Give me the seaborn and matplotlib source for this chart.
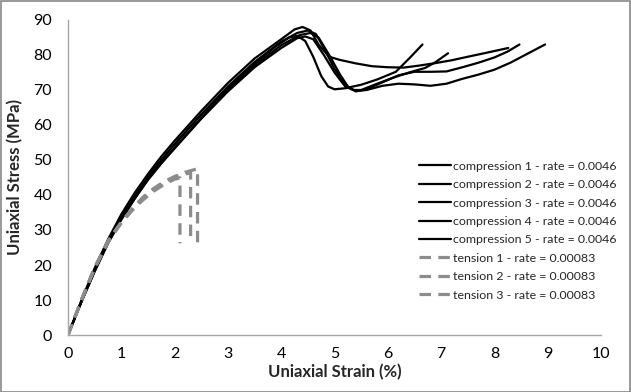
import pandas as pd
import seaborn as sns
import matplotlib.pyplot as plt
from matplotlib.patches import Rectangle
from matplotlib.ticker import MultipleLocator

# compression tests (strain %, stress MPa), rate = 0.0046
comp1_strain = [0, 0.25, 0.5, 0.75, 1.0, 1.25, 1.5, 1.75, 2.0, 2.5, 3.0, 3.5, 3.9, 4.15, 4.3, 4.45, 4.6, 4.75, 4.88, 5.0, 5.2, 5.5, 5.8, 6.15, 6.4, 6.65]
comp1_stress = [0, 9.6, 18.7, 26.8, 33.6, 39.6, 45, 50, 54.5, 63, 70.5, 77.5, 82.5, 85, 85.5, 84, 79.5, 74, 71, 70.2, 70.5, 71.5, 73, 75.2, 79, 83]

comp2_strain = [0, 0.25, 0.5, 0.75, 1.0, 1.25, 1.5, 1.75, 2.0, 2.5, 3.0, 3.5, 4.0, 4.25, 4.4, 4.55, 4.7, 4.9, 5.1, 5.4, 5.7, 6.0, 6.3, 6.6, 6.9, 7.2, 7.5, 7.9, 8.26]
comp2_stress = [0, 9.8, 19.1, 27.3, 34.5, 40.6, 46, 51, 55.5, 64, 72, 79, 84.5, 87.3, 88, 87, 83, 79.5, 78.6, 77.6, 76.8, 76.5, 76.4, 77, 77.7, 78.5, 79.5, 80.8, 82]

comp3_strain = [0, 0.25, 0.5, 0.75, 1.0, 1.25, 1.5, 1.75, 2.0, 2.5, 3.0, 3.5, 4.0, 4.3, 4.5, 4.65, 4.8, 5.0, 5.2, 5.35, 5.5, 5.8, 6.1, 6.4, 6.7, 6.9, 7.13]
comp3_stress = [0, 9.6, 18.6, 26.7, 33.5, 39.5, 45, 50, 54.5, 63, 71, 78, 83.8, 86.3, 87, 86, 82, 76, 71.5, 70, 70, 71.8, 73.5, 75, 76.3, 78, 80.5]

comp4_strain = [0, 0.25, 0.5, 0.75, 1.0, 1.25, 1.5, 1.75, 2.0, 2.5, 3.0, 3.5, 4.0, 4.35, 4.55, 4.7, 4.9, 5.1, 5.25, 5.4, 5.6, 5.9, 6.2, 6.5, 6.8, 7.1, 7.4, 7.7, 8.0, 8.25, 8.47]
comp4_stress = [0, 9.4, 18.2, 26.2, 33, 39, 44.5, 49.2, 53.5, 62, 70, 77, 82.8, 85.7, 86.3, 85, 80, 74.5, 71, 69.6, 70.2, 72.2, 74.2, 75.2, 75.2, 75.3, 76.5, 77.8, 79.3, 81, 83]

comp5_strain = [0, 0.25, 0.5, 0.75, 1.0, 1.25, 1.5, 1.75, 2.0, 2.5, 3.0, 3.5, 4.0, 4.3, 4.45, 4.6, 4.8, 5.0, 5.2, 5.4, 5.6, 5.9, 6.2, 6.5, 6.8, 7.1, 7.4, 7.7, 8.0, 8.3, 8.6, 8.95]
comp5_stress = [0, 9.4, 18.2, 26.2, 33, 38.9, 44.3, 49, 53.3, 61.8, 69.6, 76.5, 82, 84.8, 85.3, 84.5, 80, 75, 71, 69.7, 70, 71.2, 71.8, 71.6, 71.2, 71.8, 73.2, 74.4, 75.8, 77.8, 80.2, 83]

# tension tests, rate = 0.00083
ten1_strain = [0, 0.25, 0.5, 0.75, 1.0, 1.2, 1.4, 1.6, 1.8, 2.0, 2.1, 2.1]
ten1_stress = [0, 9.8, 19, 26.5, 32, 35.5, 38.5, 41, 43, 44.5, 44.9, 26.2]

ten2_strain = [0, 0.25, 0.5, 0.75, 1.0, 1.2, 1.4, 1.6, 1.8, 2.0, 2.2, 2.3, 2.3]
ten2_stress = [0, 10, 19.3, 26.8, 32.2, 35.8, 39, 41.5, 43.5, 45, 46, 46.3, 27.3]

ten3_strain = [0, 0.25, 0.5, 0.75, 1.0, 1.2, 1.4, 1.6, 1.8, 2.0, 2.2, 2.43, 2.43]
ten3_stress = [0, 10, 19.3, 26.8, 32.3, 36, 39.3, 41.8, 43.8, 45.3, 46.5, 47.5, 26]

comp_labels = ["compression %d - rate = 0.0046" % i for i in range(1, 6)]
ten_labels = ["tension %d - rate = 0.00083" % i for i in range(1, 4)]

curves = [
    (comp1_strain, comp1_stress),
    (comp2_strain, comp2_stress),
    (comp3_strain, comp3_stress),
    (comp4_strain, comp4_stress),
    (comp5_strain, comp5_stress),
    (ten1_strain, ten1_stress),
    (ten2_strain, ten2_stress),
    (ten3_strain, ten3_stress),
]
labels = comp_labels + ten_labels

sns.set_style("white")
plt.rcParams['font.family'] = ['Lato', 'DejaVu Sans']

fig = plt.figure(figsize=(6.31, 3.92), dpi=100)
ax = fig.add_axes([0.1078, 0.1454, 0.8447, 0.8036])

for (x, y), lab in zip(curves, labels):
    df = pd.DataFrame({"strain": x, "stress": y})
    if lab.startswith("compression"):
        sns.lineplot(data=df, x="strain", y="stress", ax=ax, sort=False, estimator=None,
                     color="black", linewidth=1.6, label=lab)
    else:
        sns.lineplot(data=df, x="strain", y="stress", ax=ax, sort=False, estimator=None,
                     color="#8c8c8c", linewidth=2.3, label=lab, dashes=False)
        ax.lines[-1].set_dashes((3.6, 2.3))

ax.set_xlim(0, 10)
ax.set_ylim(0, 90)
ax.xaxis.set_major_locator(MultipleLocator(1))
ax.xaxis.set_minor_locator(MultipleLocator(0.2))
ax.yaxis.set_major_locator(MultipleLocator(10))
ax.yaxis.set_minor_locator(MultipleLocator(2))

axis_gray = "#a6a6a6"
for side in ["top", "right"]:
    ax.spines[side].set_visible(False)
for side in ["left", "bottom"]:
    ax.spines[side].set_color(axis_gray)
    ax.spines[side].set_linewidth(1)
ax.tick_params(which="major", direction="inout", length=7, width=0.8, color=axis_gray,
               labelsize=11.5, labelcolor="black")
ax.tick_params(which="minor", direction="in", length=3, width=0.8, color=axis_gray)
ax.tick_params(axis="y", which="major", pad=8)
ax.tick_params(axis="x", which="major", pad=5)

ax.set_xlabel("Uniaxial Strain (%)", fontsize=12, fontweight="bold", labelpad=2)
ax.set_ylabel("Uniaxial Stress (MPa)", fontsize=12, fontweight="bold", labelpad=7)

leg = ax.legend(loc="upper left", bbox_to_anchor=(0.664, 0.59), bbox_transform=fig.transFigure,
                frameon=False, fontsize=8.9, handlelength=2.6, handletextpad=0.15,
                labelspacing=0.6, borderpad=0, borderaxespad=0)

# chart border
fig.patches.append(Rectangle((0.001, 0.001), 0.997, 0.997, transform=fig.transFigure,
                             fill=False, edgecolor="#878787", linewidth=1.2))

fig.savefig("out.png", dpi=100)
